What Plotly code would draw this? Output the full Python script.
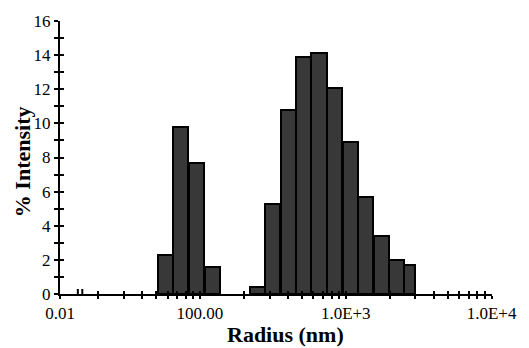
import plotly.graph_objects as go

# Bin centres (nm), bin widths (decades) and % intensity
radius = [58, 74, 95, 122,
          248, 314, 403, 514, 655, 836, 1074, 1368, 1750, 2223, 2725]
log_width = [0.104, 0.104, 0.104, 0.104,
             0.104, 0.104, 0.104, 0.104, 0.104, 0.104, 0.104, 0.104, 0.104, 0.104, 0.077]
intensity = [2.3, 9.8, 7.7, 1.6,
             0.4, 5.3, 10.8, 13.9, 14.1, 12.1, 8.9, 5.7, 3.4, 2.0, 1.7]

x_tick_vals = [11.0, 20, 30, 40, 50, 60, 70, 80, 90,
               100, 200, 300, 400, 500, 600, 700, 800, 900,
               1000, 2000, 3000, 4000, 5000, 6000, 7000, 8000, 9000, 10000]
x_tick_text = {11.0: "0.01", 100: "100.00", 1000: "1.0E+3", 10000: "1.0E+4"}
y_tick_vals = list(range(0, 17))

lo = [c * 10 ** (-w / 2) for c, w in zip(radius, log_width)]
hi = [c * 10 ** (w / 2) for c, w in zip(radius, log_width)]
xc = [(a + b) / 2 for a, b in zip(lo, hi)]
wd = [b - a for a, b in zip(lo, hi)]

fig = go.Figure()
fig.add_trace(go.Bar(x=xc, y=intensity, width=wd,
                     marker=dict(color="#383838", line=dict(color="black", width=2)),
                     showlegend=False, hoverinfo="skip"))
fig.add_trace(go.Scatter(x=[], y=[], xaxis="x2", yaxis="y2", showlegend=False))

font = "Liberation Serif, Times New Roman, serif"
xr = [1.04, 4.003]
common_x = dict(type="log", range=xr, tickvals=x_tick_vals, showgrid=False, zeroline=False,
                ticklen=3, tickwidth=2, tickcolor="black")
common_y = dict(range=[0, 16], tickvals=y_tick_vals, showgrid=False, zeroline=False,
                ticklen=4, tickwidth=1.5, tickcolor="black")

fig.update_layout(
    width=529, height=348,
    margin=dict(l=60, r=33, t=15, b=54),
    paper_bgcolor="white", plot_bgcolor="white",
    bargap=0,
    xaxis=dict(**common_x, ticks="outside",
               ticktext=[x_tick_text.get(v, "") for v in x_tick_vals],
               showline=True, linecolor="black", linewidth=2,
               tickfont=dict(family=font, size=17, color="black")),
    yaxis=dict(**common_y, ticks="outside",
               ticktext=[str(v) if v % 2 == 0 else "" for v in y_tick_vals],
               showline=True, linecolor="black", linewidth=2,
               tickfont=dict(family=font, size=17, color="black")),
    xaxis2=dict(**common_x, ticks="inside", overlaying="x", anchor="y2",
                showticklabels=False, showline=False),
    yaxis2=dict(**common_y, ticks="inside", overlaying="y", anchor="x2",
                showticklabels=False, showline=False),
    annotations=[
        dict(text="<b>Radius (nm)</b>", x=0.523, y=-0.147, xref="paper", yref="paper",
             showarrow=False, font=dict(family=font, size=22, color="black"),
             xanchor="center", yanchor="middle"),
        dict(text="<b>% Intensity</b>", x=-0.085, y=0.484, xref="paper", yref="paper",
             showarrow=False, textangle=-90, font=dict(family=font, size=22, color="black"),
             xanchor="center", yanchor="middle"),
    ],
)

# axis break marks
bx1 = (78 - 60) / 436
bx2 = (82.5 - 60) / 436
fig.add_shape(type="rect", xref="paper", yref="y", ysizemode="pixel", yanchor=0,
              x0=bx1, x1=bx2, y0=-2, y1=2, fillcolor="white", line=dict(width=0))
for bx in (bx1, bx2):
    fig.add_shape(type="line", xref="paper", yref="y", ysizemode="pixel", yanchor=0,
                  x0=bx, x1=bx, y0=-5, y1=5, line=dict(color="black", width=2))

fig.write_html("out.html")
